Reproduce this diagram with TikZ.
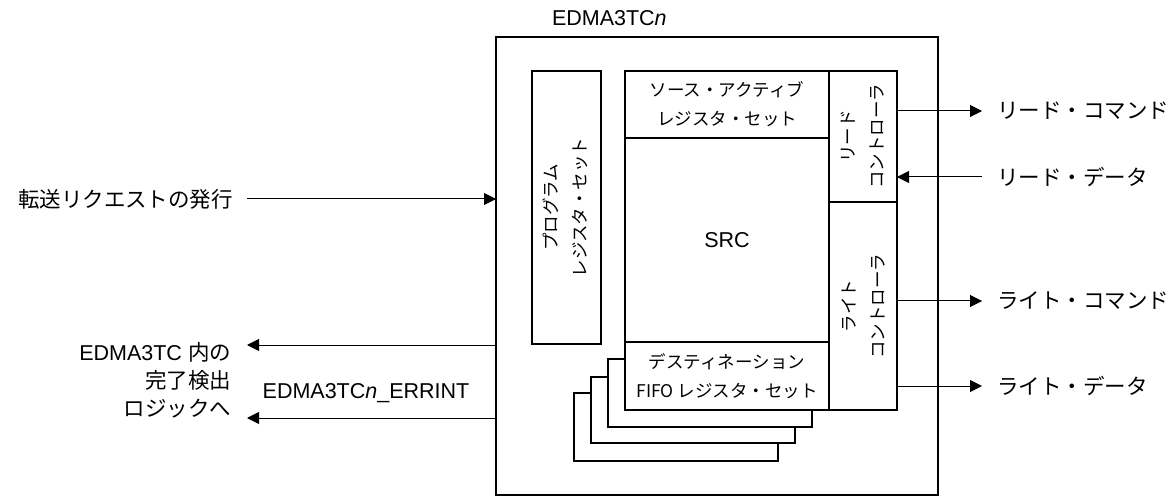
\documentclass[tikz,border=0pt]{standalone}
\usepackage{fontspec}
\setmainfont{Liberation Sans}
\newfontfamily\jp{Noto Sans CJK JP}
\usetikzlibrary{arrows.meta}
\newcommand\bxf{\fontsize{17.5}{29}\selectfont\jp}
\begin{document}
\begin{tikzpicture}[x=1pt,y=-1pt,
  font=\fontsize{21.5}{28}\selectfont,
  box/.style={draw, line width=2.2pt, fill=white, inner sep=0pt, outer sep=0pt, align=center},
  outerbox/.style={draw, line width=2.5pt, inner sep=0pt, outer sep=0pt},
  lbl/.style={inner sep=0pt, outer sep=0pt},
  vlbl/.style={inner sep=0pt, outer sep=0pt, rotate=90, align=center, font=\bxf},
  arr/.style={line width=1pt, -{Triangle[length=12pt,width=12pt]}}]
\useasboundingbox (0,0) rectangle (1176,497);
% outer box
\node[outerbox, minimum width=442, minimum height=458] (outer) at (717,266) {};
\node[lbl, anchor=west] (title) at (552,18) {EDMA3TC\textit{n}};
% program register set
\node[box, minimum width=69, minimum height=273] (prog) at (566.5,207.5) {};
\node[vlbl] (progt) at ([xshift=-1pt]prog.center) {プログラム\\レジスタ・セット};
% stacked FIFO shadows
\node[box, minimum width=204, minimum height=68] (s3) at (676,427) {};
\node[box, minimum width=204, minimum height=66] (s2) at (693,410) {};
\node[box, minimum width=204, minimum height=68] (s1) at (710,393) {};
\node[box, minimum width=204, minimum height=68, font=\bxf] (dest) at (727,376) {デスティネーション\\FIFO レジスタ・セット};
% source active and SRC
\node[box, minimum width=204, minimum height=67, font=\bxf] (src1) at (727,104.5) {ソース・アクティブ\\レジスタ・セット};
\node[box, minimum width=204, minimum height=204] (src) at (727,240) {SRC};
% controllers
\node[box, minimum width=68, minimum height=131] (rdctl) at (863,136.5) {};
\node[vlbl] (rdt) at (rdctl.center) {リード\\コントローラ};
\node[box, minimum width=68, minimum height=208] (wrctl) at (863,306) {};
\node[vlbl] (wrt) at (wrctl.center) {ライト\\コントローラ};
% right labels
\node[lbl, anchor=west] (rcmd) at (997,111) {\jp リード・コマンド};
\node[lbl, anchor=west] (rdat) at (997,177) {\jp リード・データ};
\node[lbl, anchor=west] (wcmd) at (997,301) {\jp ライト・コマンド};
\node[lbl, anchor=west] (wdat) at (997,386) {\jp ライト・データ};
\coordinate (rc) at (982,111);
\coordinate (rd) at (982,177);
\coordinate (wc) at (982,301);
\coordinate (wd) at (982,386);
\draw[arr] (rdctl.east |- rc) -- (rc);
\draw[arr] (rd) -- (rdctl.east |- rd);
\draw[arr] (wrctl.east |- wc) -- (wc);
\draw[arr] (wrctl.east |- wd) -- (wd);
% left labels
\node[lbl, anchor=east] (req) at (233,199) {\jp 転送リクエストの発行};
\draw[arr] ([xshift=14pt]req.east) -- (outer.west |- req.east);
\node[lbl, anchor=east, align=right] (done) at (231,380) {EDMA3TC {\jp 内の}\\{\jp 完了検出}\\{\jp ロジックへ}};
\node[lbl] (err) at (366,393) {EDMA3TC\textit{n}\_ERRINT};
\coordinate (c1) at (247,345);
\coordinate (c2) at (247,418);
\draw[arr] (outer.west |- c1) -- (c1);
\draw[arr] (outer.west |- c2) -- (c2);
\end{tikzpicture}
\end{document}
